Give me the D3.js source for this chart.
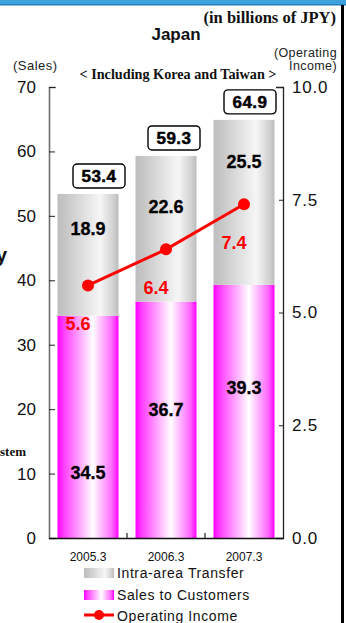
<!DOCTYPE html>
<html><head><meta charset="utf-8">
<script src="https://cdn.jsdelivr.net/npm/d3@7"></script>
<style>
html,body{margin:0;padding:0;background:#fff;}
svg{display:block;font-family:"Liberation Sans",Arial,sans-serif;}
</style></head>
<body>
<script>
// ---- data ----
const categories = ["2005.3", "2006.3", "2007.3"];
const salesToCustomers = [34.5, 36.7, 39.3];
const intraAreaTransfer = [18.9, 22.6, 25.5];
const totals = [53.4, 59.3, 64.9];
const operatingIncome = [5.6, 6.4, 7.4];
const salesTicks = [0, 10, 20, 30, 40, 50, 60, 70];
const incomeTicks = [0, 2.5, 5, 7.5, 10];
const legendLabels = ["Intra-area Transfer", "Sales to Customers", "Operating Income"];

// ---- layout (label anchors in axis units, per bar) ----
const grayLabelAt = [48.1, 51.4, 58.4];
const pinkLabelAt = [10.1, 19.9, 23.3];
const boxDx = [11, 8, 6];

const W = 346, H = 623;
const SANS = "'Liberation Sans', Arial, sans-serif";
const SERIF = "'Liberation Serif', 'Times New Roman', serif";
const svg = d3.select("body").append("svg").attr("width", W).attr("height", H);
const defs = svg.append("defs");

function grad(id, stops) {
  const g = defs.append("linearGradient").attr("id", id)
    .attr("x1", "0%").attr("x2", "100%").attr("y1", "0%").attr("y2", "0%");
  stops.forEach(s => g.append("stop").attr("offset", s[0]).attr("stop-color", s[1]));
}
grad("gPink", [["0%", "#ff00ff"], ["10%", "#ff3cff"], ["58%", "#ffffff"], ["90%", "#ff66ff"], ["100%", "#ff00ff"]]);
grad("gGray", [["0%", "#bdbdbd"], ["15%", "#c8c8c8"], ["70%", "#f6f6f6"], ["92%", "#d0d0d0"], ["100%", "#bcbcbc"]]);

// frame decorations
svg.append("rect").attr("x", 0).attr("y", 0).attr("width", W).attr("height", 5).attr("fill", "#3ea2dc");
svg.append("rect").attr("x", 0).attr("y", 4).attr("width", W).attr("height", 1.5).attr("fill", "#1f80c2");
svg.append("rect").attr("x", 341).attr("y", 5).attr("width", 3).attr("height", H - 5).attr("fill", "#000");

// scales
const x = d3.scaleBand().domain(categories).range([49, 283]).paddingInner(0.218).paddingOuter(0.109);
const y = d3.scaleLinear().domain([0, 70]).range([538, 87]);
const y2 = d3.scaleLinear().domain([0, 10]).range([538, 87]);

// bars
const bars = svg.append("g");
categories.forEach((c, i) => {
  bars.append("rect").attr("x", x(c)).attr("width", x.bandwidth())
    .attr("y", y(salesToCustomers[i])).attr("height", y(0) - y(salesToCustomers[i]))
    .attr("fill", "url(#gPink)");
  bars.append("rect").attr("x", x(c)).attr("width", x.bandwidth())
    .attr("y", y(totals[i])).attr("height", y(salesToCustomers[i]) - y(totals[i]))
    .attr("fill", "url(#gGray)");
});

// axes
const axL = d3.axisLeft(y).tickValues(salesTicks).tickSizeInner(-6).tickSizeOuter(-7).tickPadding(13);
const gL = svg.append("g").attr("transform", "translate(49,0)").call(axL);
gL.selectAll("text").attr("font-size", 17).attr("fill", "#111").style("font-family", SANS);
gL.select(".domain").attr("stroke", "#6e6e6e").attr("stroke-width", 1.6);
gL.selectAll(".tick line").attr("stroke", "#222");

const axR = d3.axisRight(y2).tickValues(incomeTicks).tickFormat(d3.format(".1f"))
  .tickSizeInner(-4).tickSizeOuter(-7).tickPadding(9);
const gR = svg.append("g").attr("transform", "translate(283,0)").call(axR);
gR.selectAll("text").attr("font-size", 17).attr("fill", "#111").style("font-family", SANS)
  .attr("letter-spacing", 0.8);
gR.select(".domain").attr("stroke", "#222").attr("stroke-width", 1.3);
gR.selectAll(".tick line").attr("stroke", "#222");

// x axis baseline with divider ticks
svg.append("line").attr("x1", 49).attr("x2", 283).attr("y1", 538.5).attr("y2", 538.5).attr("stroke", "#111").attr("stroke-width", 1.6);
categories.slice(1).forEach(c => {
  const xx = x(c) - x.step() * x.paddingInner() / 2;
  svg.append("line").attr("x1", xx).attr("x2", xx).attr("y1", 538).attr("y2", 533).attr("stroke", "#222").attr("stroke-width", 1.2);
});
svg.append("g").selectAll("text").data(categories).join("text")
  .attr("x", d => x(d) + x.bandwidth() / 2).attr("y", 561)
  .attr("text-anchor", "middle").attr("font-size", 12).attr("fill", "#111").text(d => d);

// segment labels
categories.forEach((c, i) => {
  const cx = x(c) + x.bandwidth() / 2;
  svg.append("text").attr("x", cx).attr("y", y(grayLabelAt[i])).attr("dy", "0.36em")
    .attr("text-anchor", "middle").attr("font-size", 18).attr("font-weight", "bold").attr("fill", "#000")
    .attr("stroke", "#000").attr("stroke-width", 0.3)
    .text(intraAreaTransfer[i].toFixed(1));
  svg.append("text").attr("x", cx).attr("y", y(pinkLabelAt[i])).attr("dy", "0.36em")
    .attr("text-anchor", "middle").attr("font-size", 18).attr("font-weight", "bold").attr("fill", "#000")
    .attr("stroke", "#000").attr("stroke-width", 0.3)
    .text(salesToCustomers[i].toFixed(1));
  // total box
  const bx = cx + boxDx[i];
  const by = y(totals[i]) - 6;
  svg.append("rect").attr("x", bx - 26).attr("y", by - 24).attr("width", 52).attr("height", 24)
    .attr("rx", 4).attr("fill", "#fff").attr("stroke", "#000").attr("stroke-width", 1.4);
  svg.append("text").attr("x", bx).attr("y", by - 12).attr("dy", "0.36em")
    .attr("text-anchor", "middle").attr("font-size", 17).attr("font-weight", "bold").attr("fill", "#000")
    .attr("stroke", "#000").attr("stroke-width", 0.5)
    .attr("letter-spacing", 0.5).text(totals[i].toFixed(1));
});

// operating income line
const line = d3.line().x((d, i) => x(categories[i]) + x.bandwidth() / 2).y(d => y2(d));
svg.append("path").datum(operatingIncome).attr("d", line).attr("fill", "none").attr("stroke", "#ff0000").attr("stroke-width", 3);
svg.append("g").selectAll("circle").data(operatingIncome).join("circle")
  .attr("cx", (d, i) => x(categories[i]) + x.bandwidth() / 2).attr("cy", d => y2(d)).attr("r", 6).attr("fill", "#ff0000");
svg.append("g").selectAll("text").data(operatingIncome).join("text")
  .attr("x", (d, i) => x(categories[i]) + x.bandwidth() / 2 - 10).attr("y", d => y2(d) + 38).attr("dy", "0.36em")
  .attr("text-anchor", "middle").attr("font-size", 18).attr("font-weight", "bold").attr("fill", "#ff0000")
  .text(d => d.toFixed(1));

// titles
svg.append("text").attr("x", 336).attr("y", 23).attr("text-anchor", "end").style("font-family", SERIF)
  .attr("font-weight", "bold").attr("font-size", 16.5).attr("fill", "#111").text("(in billions of JPY)");
svg.append("text").attr("x", 176).attr("y", 40).attr("text-anchor", "middle")
  .attr("font-weight", "bold").attr("font-size", 17).attr("fill", "#111").text("Japan");
svg.append("text").attr("x", 337).attr("y", 57).attr("text-anchor", "end")
  .attr("font-size", 12.5).attr("fill", "#222").attr("letter-spacing", 0.4).text("(Operating");
svg.append("text").attr("x", 337).attr("y", 70).attr("text-anchor", "end")
  .attr("font-size", 12.5).attr("fill", "#222").attr("letter-spacing", 0.4).text("Income)");
svg.append("text").attr("x", 13).attr("y", 70)
  .attr("font-size", 13).attr("fill", "#222").attr("letter-spacing", 0.5).text("(Sales)");
svg.append("text").attr("x", 178).attr("y", 79).attr("text-anchor", "middle").style("font-family", SERIF)
  .attr("font-weight", "bold").attr("font-size", 14.2).attr("fill", "#111").text("< Including Korea and Taiwan >");

// cropped neighbour fragments at left edge
svg.append("text").attr("x", 7).attr("y", 262).attr("text-anchor", "end")
  .attr("font-weight", "bold").attr("font-size", 20).attr("fill", "#111").text("y");
svg.append("text").attr("x", 26).attr("y", 456).attr("text-anchor", "end").style("font-family", SERIF)
  .attr("font-weight", "bold").attr("font-size", 13).attr("fill", "#111").text("System");

// legend
const lg = svg.append("g");
[["url(#gGray)", 573], ["url(#gPink)", 595]].forEach((s, i) => {
  lg.append("rect").attr("x", 84).attr("y", s[1] - 5).attr("width", 30).attr("height", 10).attr("fill", s[0]);
  lg.append("text").attr("x", 117).attr("y", s[1]).attr("dy", "0.36em").attr("font-size", 14)
    .attr("letter-spacing", 0.6).attr("fill", "#111").text(legendLabels[i]);
});
lg.append("line").attr("x1", 84).attr("x2", 114).attr("y1", 615).attr("y2", 615).attr("stroke", "#ff0000").attr("stroke-width", 3);
lg.append("circle").attr("cx", 99).attr("cy", 615).attr("r", 5).attr("fill", "#ff0000");
lg.append("text").attr("x", 117).attr("y", 616).attr("dy", "0.36em").attr("font-size", 14)
  .attr("letter-spacing", 0.6).attr("fill", "#111").text(legendLabels[2]);
</script>
</body></html>
